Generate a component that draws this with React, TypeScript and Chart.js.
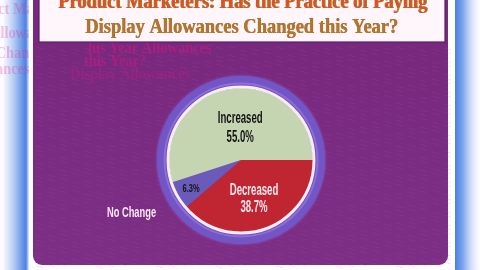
import { useEffect, useRef } from "react";
import { Chart, registerables } from "chart.js";

Chart.register(...registerables);

// ---- data ----
const categories = ["Decreased", "No Change", "Increased"];
const values = [38.7, 6.3, 55.0];
const sliceColors = ["#bf2632", "#6a5bbb", "#c5d5b1"];
const titleLines = [
  "Product Marketers: Has the Practice of Paying",
  "Display Allowances Changed this Year?",
];

function scaledText(
  ctx: CanvasRenderingContext2D,
  text: string,
  x: number,
  y: number,
  font: string,
  sx: number,
  color: string,
  align: CanvasTextAlign = "center"
) {
  ctx.save();
  ctx.font = font;
  ctx.fillStyle = color;
  ctx.textAlign = align;
  ctx.textBaseline = "alphabetic";
  ctx.translate(x, y);
  ctx.scale(sx, 1);
  ctx.fillText(text, 0, 0);
  ctx.restore();
}

function fitText(
  ctx: CanvasRenderingContext2D,
  text: string,
  cx: number,
  y: number,
  font: string,
  width: number,
  color: string
) {
  ctx.save();
  ctx.font = font;
  const w = ctx.measureText(text).width;
  ctx.restore();
  scaledText(ctx, text, cx, y, font, width / w, color);
}

const bgPlugin = {
  id: "bg",
  beforeDraw(chart: any) {
    const ctx: CanvasRenderingContext2D = chart.ctx;
    const W = chart.width;
    const H = chart.height;
    ctx.save();
    ctx.fillStyle = "#fdfaff";
    ctx.fillRect(0, 0, W, H);

    // blue glow bands
    let g = ctx.createLinearGradient(4, 0, 29, 0);
    g.addColorStop(0, "rgba(180,205,250,0.15)");
    g.addColorStop(0.5, "#9dbbf0");
    g.addColorStop(0.88, "#4d80e2");
    g.addColorStop(1, "#e8efff");
    ctx.fillStyle = g;
    ctx.fillRect(4, 0, 25, H);
    g = ctx.createLinearGradient(455, 0, 478, 0);
    g.addColorStop(0, "#4b7fe2");
    g.addColorStop(0.35, "#7fa6ee");
    g.addColorStop(1, "rgba(200,215,250,0.1)");
    ctx.fillStyle = g;
    ctx.fillRect(455, 0, 23, H);

    // left margin ghost print
    ctx.save();
    ctx.beginPath();
    ctx.rect(0, 0, 30, 85);
    ctx.clip();
    const ghost = "rgba(225,40,150,0.28)";
    scaledText(ctx, "Product Marketers", -40, 14, "bold 16px 'Liberation Serif'", 0.9, ghost, "left");
    scaledText(ctx, "Display Allowances", -60, 38, "bold 16px 'Liberation Serif'", 0.9, ghost, "left");
    scaledText(ctx, "this Year? Changed", -70, 58, "bold 16px 'Liberation Serif'", 0.9, ghost, "left");
    scaledText(ctx, "Allowances", -40, 74, "bold 16px 'Liberation Serif'", 0.9, ghost, "left");
    ctx.restore();

    // white frame + purple panel
    ctx.fillStyle = "#ffffff";
    ctx.beginPath();
    ctx.roundRect(29, -12, 426, 281, 11);
    ctx.fill();
    const pg = ctx.createLinearGradient(0, 40, 0, 265);
    pg.addColorStop(0, "#78297e");
    pg.addColorStop(1, "#7d2f86");
    ctx.fillStyle = pg;
    ctx.beginPath();
    ctx.roundRect(33, -12, 415, 277, 9);
    ctx.fill();
    // subtle leather texture
    ctx.strokeStyle = "rgba(160,80,170,0.18)";
    ctx.lineWidth = 1;
    for (let yy = 48; yy < 265; yy += 6) {
      ctx.beginPath();
      for (let xx = 36; xx < 446; xx += 12) {
        const o = ((xx * 7 + yy * 3) % 5) - 2;
        ctx.moveTo(xx, yy + o);
        ctx.lineTo(xx + 7, yy + o + 2);
      }
      ctx.stroke();
    }

    // ghost print inside panel below title
    const ghost2 = "rgba(200,25,125,0.6)";
    scaledText(ctx, "his Year Allowances", 88, 53, "bold 17px 'Liberation Serif'", 0.85, ghost2, "left");
    scaledText(ctx, "this Year?", 84, 66, "bold 17px 'Liberation Serif'", 0.85, ghost2, "left");
    scaledText(ctx, "Display Allowances", 70, 79, "bold 17px 'Liberation Serif'", 0.85, "rgba(200,25,125,0.35)", "left");

    // title box
    ctx.fillStyle = "#fff6fc";
    ctx.fillRect(39, 0, 406, 42);
    ctx.strokeStyle = "#5b1f66";
    ctx.lineWidth = 1.2;
    ctx.strokeRect(39, -2, 406, 44);

    // title text
    const tf = "bold 22px 'Liberation Serif'";
    fitText(ctx, titleLines[0], 243.5, 8, tf, 369, "#8a8a2a");
    fitText(ctx, titleLines[0], 242.5, 8, tf, 369, "#dd5128");
    fitText(ctx, titleLines[1], 242, 33, tf, 313, "#d0502a");
    fitText(ctx, titleLines[1], 241.5, 33, tf, 313, "#a97b2e");
    ctx.restore();
  },
};

const ringPlugin = {
  id: "ring",
  afterDatasetsDraw(chart: any) {
    const ctx: CanvasRenderingContext2D = chart.ctx;
    const arc = chart.getDatasetMeta(0).data[0];
    const { x, y, outerRadius } = arc.getProps(["x", "y", "outerRadius"], true);
    ctx.save();
    // glow ring
    ctx.shadowColor = "rgba(140,110,230,0.8)";
    ctx.shadowBlur = 3;
    ctx.strokeStyle = "#7256c6";
    ctx.lineWidth = 9;
    ctx.beginPath();
    ctx.arc(x, y, outerRadius + 7.5, 0, Math.PI * 2);
    ctx.stroke();
    ctx.shadowBlur = 0;
    ctx.strokeStyle = "#8d6fdb";
    ctx.lineWidth = 2;
    ctx.beginPath();
    ctx.arc(x, y, outerRadius + 4.5, 0, Math.PI * 2);
    ctx.stroke();
    // white ring
    ctx.strokeStyle = "#f7ecf6";
    ctx.lineWidth = 3;
    ctx.beginPath();
    ctx.arc(x, y, outerRadius + 1, 0, Math.PI * 2);
    ctx.stroke();
    ctx.restore();
  },
};

const labelPlugin = {
  id: "labels",
  afterDraw(chart: any) {
    const ctx: CanvasRenderingContext2D = chart.ctx;
    const meta = chart.getDatasetMeta(0);
    const pt = (i: number, f: number, dx: number, dy: number) => {
      const p = meta.data[i].getProps(["x", "y", "startAngle", "endAngle", "outerRadius"], true);
      const mid = (p.startAngle + p.endAngle) / 2;
      return { x: p.x + Math.cos(mid) * p.outerRadius * f + dx, y: p.y + Math.sin(mid) * p.outerRadius * f + dy };
    };
    const big = "bold 16px 'Liberation Sans'";
    const sx = 0.6;
    const pct = (v: number) => v.toFixed(1) + "%";

    // Increased
    let a = pt(2, 0.47, 4.5, 0.7);
    scaledText(ctx, categories[2], a.x, a.y - 4, big, sx, "#141414");
    scaledText(ctx, pct(values[2]), a.x, a.y + 15, big, sx, "#141414");
    // Decreased
    a = pt(0, 0.5, 0.5, 4.8);
    scaledText(ctx, categories[0], a.x, a.y - 4, big, sx, "#fbe6ef");
    scaledText(ctx, pct(values[0]), a.x, a.y + 13, big, sx, "#fbe6ef");
    // No Change
    a = pt(1, 0.795, 0, 0);
    scaledText(ctx, pct(values[1]), a.x, a.y + 3.5, "bold 11px 'Liberation Sans'", 0.68, "#141414");
    a = pt(1, 1.66, -5.3, -1.4);
    scaledText(ctx, categories[1], a.x, a.y, "bold 15px 'Liberation Sans'", 0.62, "#fbe9f4");
  },
};

export default function App() {
  const ref = useRef<HTMLCanvasElement>(null);
  useEffect(() => {
    document.body.style.margin = "0";
    const canvas = ref.current!;
    const chart = new Chart(canvas, {
      type: "pie",
      data: {
        labels: categories,
        datasets: [{ data: values, backgroundColor: sliceColors, borderWidth: 0 }],
      },
      options: {
        responsive: false,
        animation: false,
        rotation: 90,
        layout: { padding: { left: 169, right: 167, top: 88, bottom: 38 } },
        plugins: {
          legend: { display: false },
          tooltip: { enabled: false },
        },
      },
      plugins: [bgPlugin, ringPlugin, labelPlugin],
    } as any);
    return () => chart.destroy();
  }, []);
  return (
    <div style={{ position: "fixed", left: 0, top: 0, width: 480, height: 270 }}>
      <canvas ref={ref} width={480} height={270} style={{ display: "block" }} />
    </div>
  );
}
